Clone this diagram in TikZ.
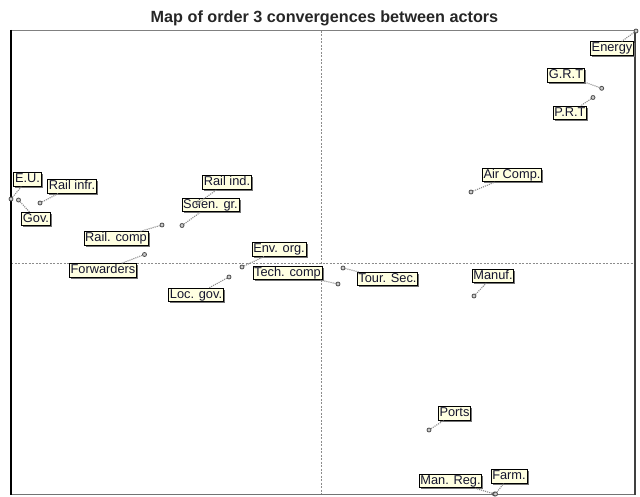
\documentclass[tikz,border=0pt]{standalone}
\usepackage{fontspec}
\setmainfont{Liberation Sans}
\usetikzlibrary{shadows}
\definecolor{tipfill}{HTML}{FFFFE1}
\definecolor{tiptext}{HTML}{14142E}
\tikzset{
  actor/.style={draw=black, line width=0.8pt, fill=tipfill, text=tiptext,
    font=\fontsize{12.8}{13}\selectfont, inner xsep=1.2pt, inner ysep=0.5pt,
    text height=9.6pt, text depth=2.8pt,
    drop shadow={shadow xshift=1.6pt, shadow yshift=-1.6pt, fill=black!55, opacity=1}},
  dot/.style={circle, draw=black!70, fill=black!20, line width=0.8pt,
    minimum size=4pt, inner sep=0pt},
  link/.style={draw=black!45, densely dotted, line width=1.1pt},
  axis/.style={draw=black!45, line width=0.5pt, dash pattern=on 2pt off 1.5pt}
}
\begin{document}
\begin{tikzpicture}[x=1pt,y=-1pt]
\useasboundingbox (0,0) rectangle (640,497);
% title
\node[anchor=base, font=\fontsize{16.2}{16.2}\bfseries\selectfont, text=black!85]
  (title) at (324.5,22.4) {Map of order 3 convergences between actors};
% axes
\draw[axis] (321.7,31) -- (321.7,494);
\draw[axis] (11,263) -- (635,263);
% frame
\draw[black!50, line width=1.6pt] (11,30.5) -- (635,30.5);
\draw[black!55, line width=1.6pt] (11,494.5) -- (635,494.5);
\draw[black, line width=1.6pt] (11,30) -- (11,495);
\draw[black!75, line width=1.8pt] (635,30) -- (635,495);

% actor labels
\node[actor] (lEnergy) at (612,48.5) {Energy};
\node[actor] (lGRT) at (566,75.5) {G.R.T};
\node[actor] (lPRT) at (570,113) {P.R.T};
\node[actor] (lAir) at (512,175) {Air Comp.};
\node[actor] (lEU) at (27.5,179.5) {E.U.};
\node[actor] (lGov) at (36,219) {Gov.};
\node[actor] (lRinfr) at (72,186.5) {Rail infr.};
\node[actor] (lRind) at (227,182.5) {Rail ind.};
\node[actor] (lScien) at (210.5,205) {Scien. gr.};
\node[actor] (lRcomp) at (116,238.5) {Rail. comp};
\node[actor] (lFwd) at (103,270.5) {Forwarders};
\node[actor] (lEnv) at (279,249.5) {Env. org.};
\node[actor] (lTech) at (287.5,273) {Tech. comp};
\node[actor] (lLoc) at (196,295) {Loc. gov.};
\node[actor] (lTour) at (387.5,279) {Tour. Sec.};
\node[actor] (lManuf) at (493,276) {Manuf.};
\node[actor] (lPorts) at (454.5,413.5) {Ports};
\node[actor] (lManReg) at (450.5,481) {Man. Reg.};
\node[actor] (lFarm) at (509,476.5) {Farm.};

% actor positions
\node[dot] (pEnergy) at (636,31) {};
\node[dot] (pGRT) at (601.7,88.3) {};
\node[dot] (pPRT) at (593,97.5) {};
\node[dot] (pAir) at (471,192) {};
\node[dot] (pEU) at (11,199) {};
\node[dot] (pGov) at (18.5,200) {};
\node[dot] (pRinfr) at (40,203) {};
\node[dot] (pRind) at (198,203) {};
\node[dot] (pScien) at (182,225.5) {};
\node[dot] (pRcomp) at (162,225) {};
\node[dot] (pFwd) at (144.5,254.5) {};
\node[dot] (pEnv) at (242,267) {};
\node[dot] (pTech) at (338,284) {};
\node[dot] (pLoc) at (229,277) {};
\node[dot] (pTour) at (343,268) {};
\node[dot] (pManuf) at (474,296) {};
\node[dot] (pPorts) at (429,430) {};
\node[dot] (pManReg) at (494.5,494) {};
\node[dot] (pFarm) at (495.5,494) {};

% links from positions to labels
\draw[link] (pEnergy) -- (lEnergy);
\draw[link] (pGRT) -- (lGRT);
\draw[link] (pPRT) -- (lPRT);
\draw[link] (pAir) -- (lAir);
\draw[link] (pEU) -- (lEU);
\draw[link] (pGov) -- (lGov);
\draw[link] (pRinfr) -- (lRinfr);
\draw[link] (pRind) -- (lRind);
\draw[link] (pScien) -- (lScien);
\draw[link] (pRcomp) -- (lRcomp);
\draw[link] (pFwd) -- (lFwd);
\draw[link] (pEnv) -- (lEnv);
\draw[link] (pTech) -- (lTech);
\draw[link] (pLoc) -- (lLoc);
\draw[link] (pTour) -- (lTour);
\draw[link] (pManuf) -- (lManuf);
\draw[link] (pPorts) -- (lPorts);
\draw[link] (pManReg) -- (lManReg);
\draw[link] (pFarm) -- (lFarm);
\end{tikzpicture}
\end{document}
